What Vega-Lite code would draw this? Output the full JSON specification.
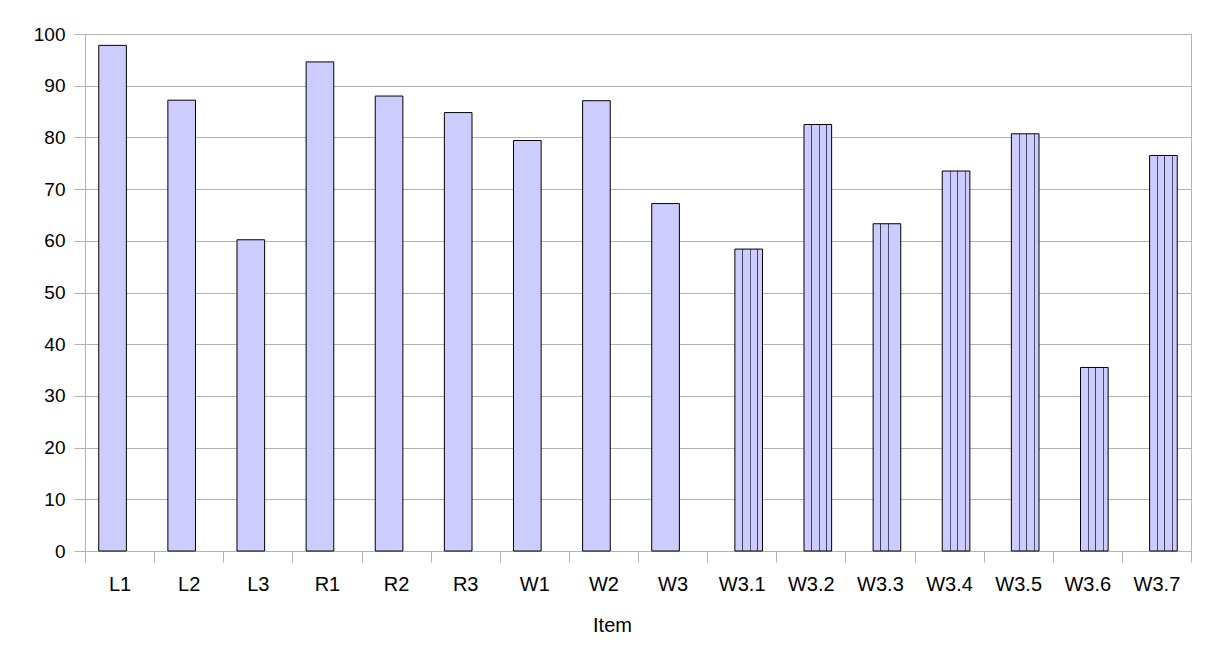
{
  "$schema": "https://vega.github.io/schema/vega-lite/v6.json",
  "width": 1106,
  "height": 517,
  "autosize": {"type": "none"},
  "padding": {"left": 85, "top": 34, "right": 16, "bottom": 95},
  "background": "white",
  "config": {
    "font": "Liberation Sans",
    "view": {"stroke": "#b3b3b3", "strokeWidth": 1}
  },
  "data": {
    "values": [
      {"item": "L1", "value": 97.8, "series": "solid"},
      {"item": "L2", "value": 87.2, "series": "solid"},
      {"item": "L3", "value": 60.2, "series": "solid"},
      {"item": "R1", "value": 94.6, "series": "solid"},
      {"item": "R2", "value": 88.0, "series": "solid"},
      {"item": "R3", "value": 84.8, "series": "solid"},
      {"item": "W1", "value": 79.4, "series": "solid"},
      {"item": "W2", "value": 87.1, "series": "solid"},
      {"item": "W3", "value": 67.2, "series": "solid"},
      {"item": "W3.1", "value": 58.4, "series": "striped"},
      {"item": "W3.2", "value": 82.5, "series": "striped"},
      {"item": "W3.3", "value": 63.3, "series": "striped"},
      {"item": "W3.4", "value": 73.5, "series": "striped"},
      {"item": "W3.5", "value": 80.7, "series": "striped"},
      {"item": "W3.6", "value": 35.5, "series": "striped"},
      {"item": "W3.7", "value": 76.5, "series": "striped"}
    ]
  },
  "encoding": {
    "x": {
      "field": "item",
      "type": "nominal",
      "scale": {
        "domain": ["L1", "L2", "L3", "R1", "R2", "R3", "W1", "W2", "W3", "W3.1", "W3.2", "W3.3", "W3.4", "W3.5", "W3.6", "W3.7"],
        "paddingInner": 0,
        "paddingOuter": 0
      },
      "axis": {
        "title": "Item",
        "titleFontSize": 20,
        "titleFontWeight": "normal",
        "titleColor": "black",
        "titleX": 527,
        "titleY": 74,
        "titleAlign": "center",
        "titleBaseline": "middle",
        "labelFontSize": 20,
        "labelColor": "black",
        "labelAngle": 0,
        "labelPadding": 12,
        "tickBand": "extent",
        "tickSize": 11,
        "tickColor": "#b3b3b3",
        "domainColor": "#b3b3b3",
        "grid": false
      }
    },
    "y": {
      "field": "value",
      "type": "quantitative",
      "scale": {"domain": [0, 100], "nice": false},
      "axis": {
        "title": null,
        "values": [0, 10, 20, 30, 40, 50, 60, 70, 80, 90, 100],
        "labelFontSize": 19,
        "labelColor": "black",
        "labelPadding": 9,
        "tickSize": 11,
        "tickColor": "#b3b3b3",
        "domainColor": "#b3b3b3",
        "gridColor": "#b3b3b3",
        "grid": true
      }
    }
  },
  "layer": [
    {
      "transform": [{"filter": "datum.series === 'solid'"}],
      "mark": {
        "type": "bar",
        "width": {"band": 0.4},
        "xOffset": -7,
        "fill": "#ccccff",
        "stroke": "#000000",
        "strokeWidth": 1
      }
    },
    {
      "transform": [{"filter": "datum.series === 'striped'"}],
      "mark": {
        "type": "bar",
        "width": {"band": 0.4},
        "xOffset": 7,
        "fill": {
          "gradient": "linear",
          "x1": 0, "y1": 0, "x2": 1, "y2": 0,
          "stops": [
            {"offset": 0, "color": "#ccccff"},
            {"offset": 0.265, "color": "#ccccff"},
            {"offset": 0.265, "color": "#3a3a50"},
            {"offset": 0.3, "color": "#5a5a7a"},
            {"offset": 0.3, "color": "#ccccff"},
            {"offset": 0.535, "color": "#ccccff"},
            {"offset": 0.535, "color": "#3a3a50"},
            {"offset": 0.57, "color": "#5a5a7a"},
            {"offset": 0.57, "color": "#ccccff"},
            {"offset": 0.81, "color": "#ccccff"},
            {"offset": 0.81, "color": "#3a3a50"},
            {"offset": 0.845, "color": "#5a5a7a"},
            {"offset": 0.845, "color": "#ccccff"},
            {"offset": 1, "color": "#ccccff"}
          ]
        },
        "stroke": "#000000",
        "strokeWidth": 1
      }
    }
  ]
}
